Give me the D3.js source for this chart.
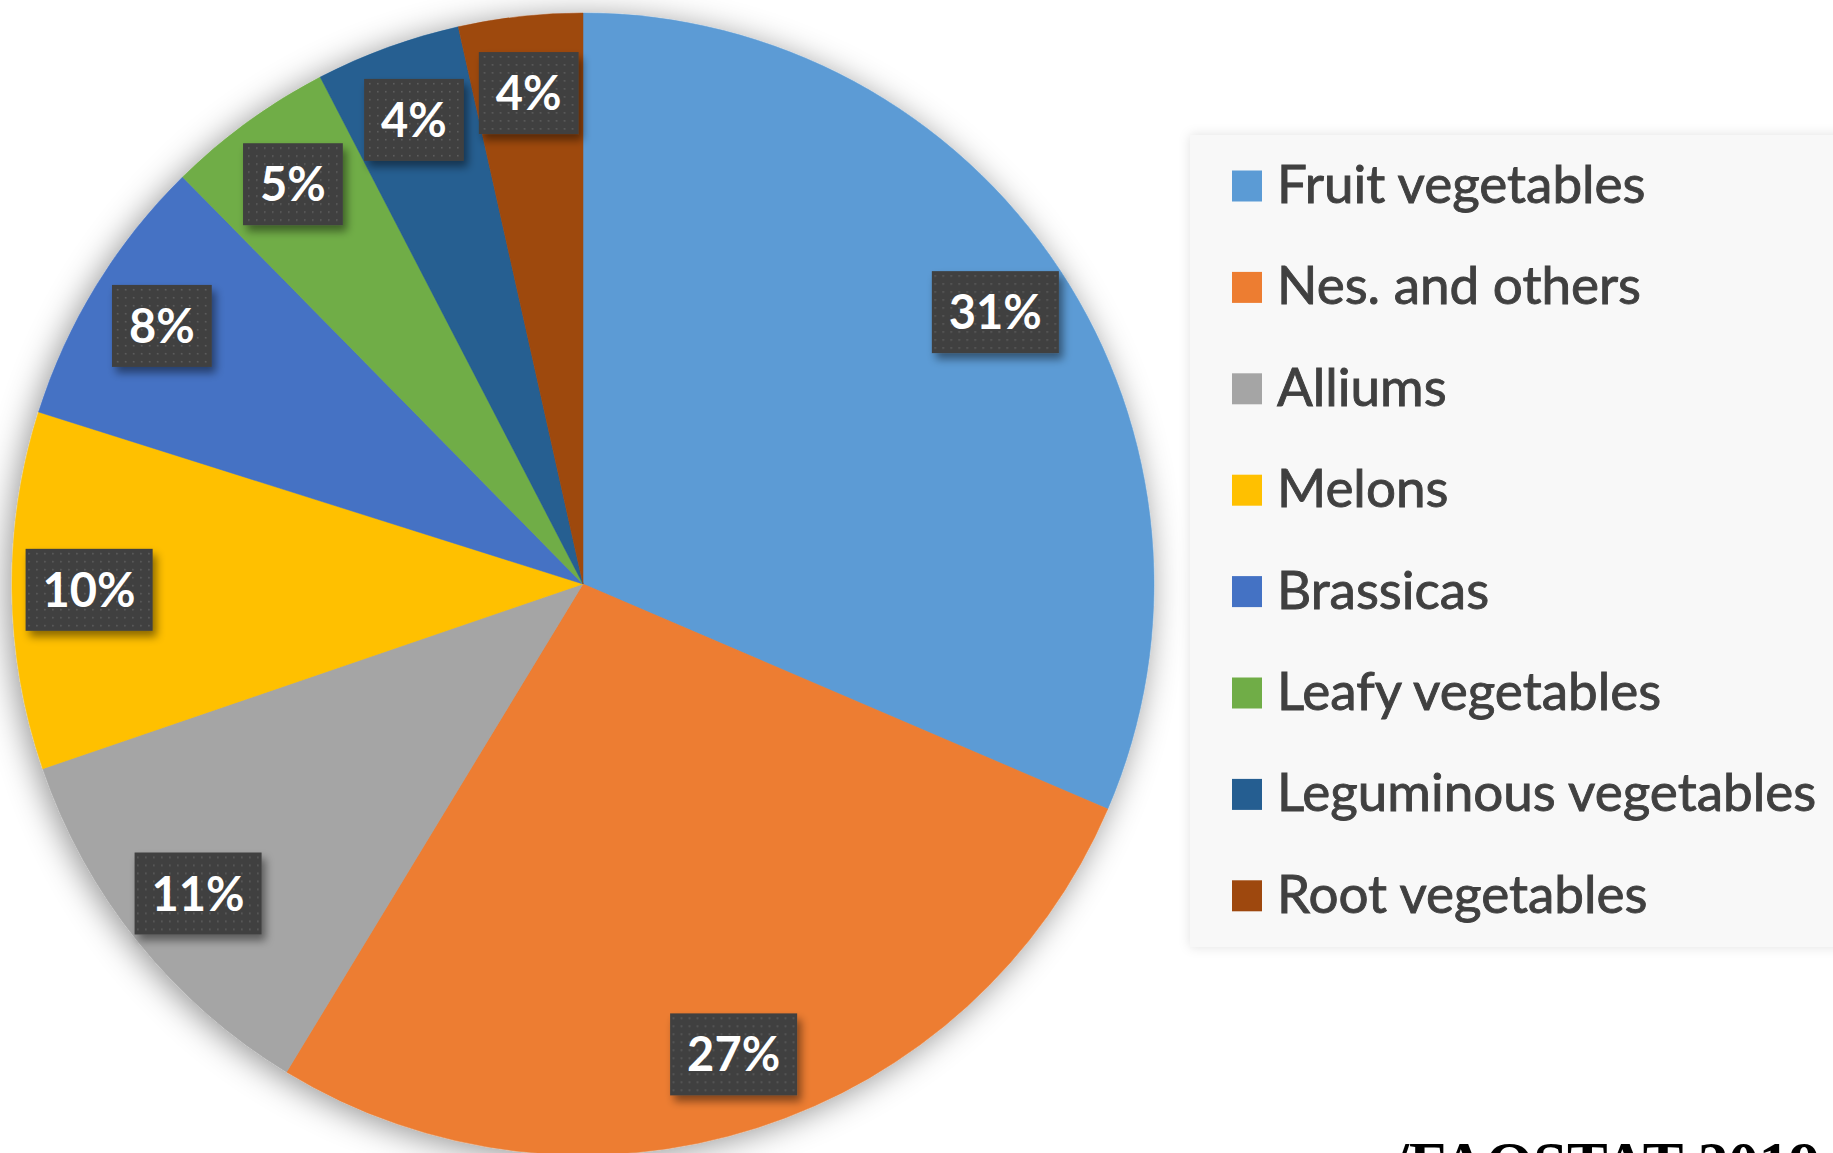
<!DOCTYPE html>
<html>
<head>
<meta charset="utf-8">
<script src="https://cdnjs.cloudflare.com/ajax/libs/d3/7.8.5/d3.min.js"></script>
<style>
  html, body { margin: 0; padding: 0; background: #fff; overflow: hidden; }
  svg { display: block; }
</style>
</head>
<body>
<div id="chart"></div>
<script>
// vegetable production shares
var categories = ['Fruit vegetables', 'Nes. and others', 'Alliums', 'Melons',
                  'Brassicas', 'Leafy vegetables', 'Leguminous vegetables', 'Root vegetables'];
var shares = [31.4, 27.2, 11.05, 10.1, 7.75, 4.75, 4.1, 3.5];
var labels = ['31%', '27%', '11%', '10%', '8%', '5%', '4%', '4%'];
var colors = ['#5B9BD5', '#ED7D31', '#A5A5A5', '#FFC000',
              '#4472C4', '#70AD47', '#255E91', '#9E480E'];
var sourceText = '/FAOSTAT 2019';

(function () {
    var options = {
        width: 1833,
        height: 1153,
        cx: 583,
        cy: 584,
        radius: 571,
        labelRadius: 0.865,
        legendX: 1190,
        legendY: 135,
        legendH: 812,
        legendFirst: 186,
        legendStep: 101.4
    };

    var svg = d3.select('#chart').append('svg')
        .attr('width', options.width)
        .attr('height', options.height);

    var defs = svg.append('defs');

    var pieShadow = defs.append('filter').attr('id', 'pieShadow')
        .attr('x', '-20%').attr('y', '-20%').attr('width', '140%').attr('height', '140%');
    pieShadow.append('feDropShadow')
        .attr('dx', -4).attr('dy', 4).attr('stdDeviation', 16)
        .attr('flood-color', '#000').attr('flood-opacity', 0.42);

    var boxShadow = defs.append('filter').attr('id', 'boxShadow')
        .attr('x', '-30%').attr('y', '-30%').attr('width', '160%').attr('height', '160%');
    boxShadow.append('feDropShadow')
        .attr('dx', 4).attr('dy', 6).attr('stdDeviation', 4)
        .attr('flood-color', '#000').attr('flood-opacity', 0.45);

    var legendShadow = defs.append('filter').attr('id', 'legendShadow')
        .attr('x', '-10%').attr('y', '-10%').attr('width', '120%').attr('height', '120%');
    legendShadow.append('feDropShadow')
        .attr('dx', 0).attr('dy', 0).attr('stdDeviation', 6)
        .attr('flood-color', '#000').attr('flood-opacity', 0.12);

    var dots = defs.append('pattern').attr('id', 'dots')
        .attr('patternUnits', 'userSpaceOnUse')
        .attr('width', 8).attr('height', 8);
    dots.append('rect').attr('width', 8).attr('height', 8).attr('fill', '#404040');
    dots.append('rect').attr('x', 3).attr('y', 3).attr('width', 1.6).attr('height', 1.6)
        .attr('fill', '#5e5e5e');

    // legend panel
    var legend = svg.append('g');
    legend.append('rect')
        .attr('x', options.legendX)
        .attr('y', options.legendY)
        .attr('width', options.width - options.legendX + 40)
        .attr('height', options.legendH)
        .attr('fill', '#f8f8f8')
        .attr('filter', 'url(#legendShadow)');

    var item = legend.selectAll('.legend__item')
        .data(categories)
        .enter().append('g')
        .classed('legend__item', true)
        .attr('transform', function (d, i) {
            return 'translate(' + (options.legendX + 42) + ', ' + (options.legendFirst + i * options.legendStep) + ')';
        });

    item.append('rect')
        .attr('x', 0).attr('y', -15.5)
        .attr('width', 30).attr('height', 31)
        .attr('fill', function (d, i) { return colors[i]; });

    item.append('text')
        .attr('x', 45)
        .attr('y', 17)
        .attr('font-family', 'Lato, "Open Sans", sans-serif')
        .attr('font-size', 53)
        .attr('fill', '#404040')
        .attr('stroke', '#404040')
        .attr('stroke-width', 0.9)
        .text(function (d) { return d; });

    // pie
    var pie = d3.pie().sort(null).value(function (d) { return d; });
    var arcs = pie(shares);

    var arc = d3.arc().innerRadius(0).outerRadius(options.radius);
    var labelArc = d3.arc()
        .innerRadius(options.radius * options.labelRadius)
        .outerRadius(options.radius * options.labelRadius);

    var chart = svg.append('g')
        .attr('transform', 'translate(' + options.cx + ', ' + options.cy + ')');

    chart.append('g')
        .attr('filter', 'url(#pieShadow)')
        .selectAll('path')
        .data(arcs)
        .enter().append('path')
        .attr('d', arc)
        .attr('fill', function (d, i) { return colors[i]; })
        .attr('stroke', function (d, i) { return colors[i]; })
        .attr('stroke-width', 0.5);

    var tag = chart.selectAll('.chart__label')
        .data(arcs)
        .enter().append('g')
        .classed('chart__label', true)
        .attr('transform', function (d) {
            var c = labelArc.centroid(d);
            return 'translate(' + c[0] + ', ' + c[1] + ')';
        });

    var tagBox = tag.append('rect').attr('filter', 'url(#boxShadow)').attr('fill', 'url(#dots)');

    var tagText = tag.append('text')
        .attr('text-anchor', 'middle')
        .attr('y', 17)
        .attr('font-family', 'Lato, "Open Sans", sans-serif')
        .attr('font-weight', 'bold')
        .attr('font-size', 47)
        .attr('fill', '#fff')
        .text(function (d, i) { return labels[i]; });

    tagText.each(function (d, i) {
        var w = this.getComputedTextLength() + 34;
        d3.select(tagBox.nodes()[i])
            .attr('x', -w / 2).attr('y', -41)
            .attr('width', w).attr('height', 82);
    });

    // source note, cut by the bottom edge as in the original
    svg.append('text')
        .attr('x', 1392)
        .attr('y', 1184)
        .attr('font-family', '"Liberation Serif", "Times New Roman", serif')
        .attr('font-weight', 'bold')
        .attr('font-size', 61)
        .attr('fill', '#000')
        .text(sourceText);
})();
</script>
</body>
</html>
